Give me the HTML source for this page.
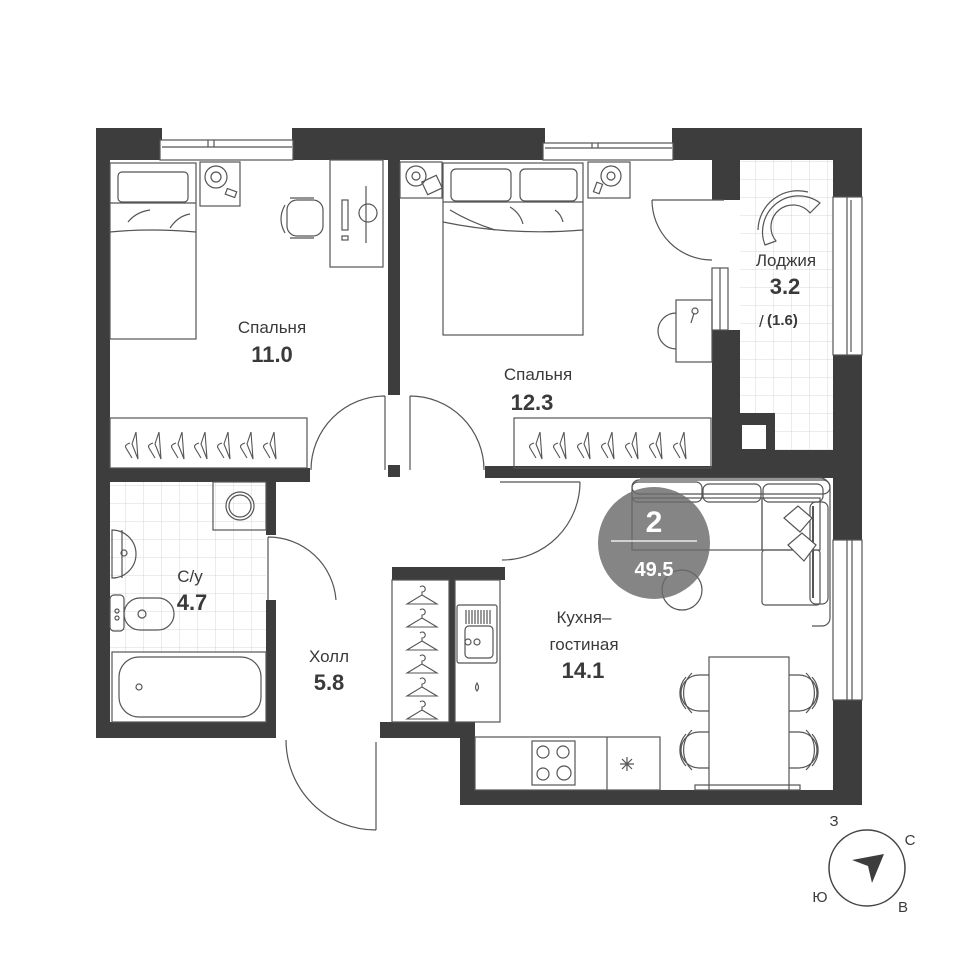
<!DOCTYPE html>
<html><head><meta charset="utf-8"><style>
html,body{margin:0;padding:0;background:#fff;width:960px;height:960px;overflow:hidden}
svg{display:block}
text{font-family:"Liberation Sans","DejaVu Sans",sans-serif;fill:#3a3a3a}
.l{font-size:17px}
.n{font-size:22px;font-weight:bold}
</style></head><body>
<svg width="960" height="960" viewBox="0 0 960 960" xmlns="http://www.w3.org/2000/svg">
<defs>
<pattern id="tile" width="18" height="18" patternUnits="userSpaceOnUse">
<path d="M18 0V18H0" fill="none" stroke="#d8d8d8" stroke-width="1"/>
</pattern>
</defs>
<!-- tiles -->
<rect x="110" y="482" width="156" height="170" fill="url(#tile)"/>
<rect x="740" y="160" width="93" height="290" fill="url(#tile)"/>
<g fill="#3d3d3d">
<!-- top wall -->
<rect x="96" y="128" width="766" height="32"/>
<!-- left wall -->
<rect x="96" y="128" width="14" height="610"/>
<!-- bedroom divider -->
<rect x="388" y="160" width="12" height="235"/>
<rect x="388" y="465" width="12" height="12"/>
<!-- bedroom1 bottom -->
<rect x="96" y="468" width="214" height="14"/>
<!-- bedroom2 bottom -->
<rect x="485" y="466" width="227" height="12"/>
<!-- right of bedroom2 -->
<rect x="712" y="160" width="28" height="40"/>
<rect x="712" y="330" width="28" height="148"/>
<!-- loggia right wall -->
<rect x="833" y="128" width="29" height="69"/>
<rect x="833" y="355" width="29" height="185"/>
<rect x="740" y="450" width="122" height="28"/>
<rect x="740" y="413" width="35" height="37"/>
<!-- living right wall -->
<rect x="833" y="700" width="29" height="105"/>
<!-- bottom living -->
<rect x="460" y="790" width="402" height="15"/>
<rect x="460" y="722" width="15" height="83"/>
<!-- hall/kitchen walls -->
<rect x="380" y="722" width="95" height="16"/>
<rect x="392" y="567" width="113" height="13"/>
<rect x="449" y="567" width="6" height="160"/>
<rect x="500" y="567" width="5" height="10"/>
<!-- bathroom -->
<rect x="96" y="722" width="180" height="16"/>
<rect x="266" y="480" width="10" height="55"/>
<rect x="266" y="600" width="10" height="125"/>
</g>
<!-- small white square in loggia -->
<rect x="742" y="425" width="24" height="24" fill="#fff"/>
<g fill="none" stroke="#555" stroke-width="1.2">
<!-- windows -->
<rect x="162" y="128" width="130" height="32" fill="#fff" stroke="none"/>
<rect x="160" y="140" width="133" height="20" fill="#fff"/>
<line x1="162" y1="147" x2="292" y2="147"/><line x1="208" y1="140" x2="208" y2="147"/><line x1="214" y1="140" x2="214" y2="147"/>
<rect x="545" y="128" width="127" height="32" fill="#fff" stroke="none"/>
<rect x="543" y="143" width="130" height="17" fill="#fff"/>
<line x1="545" y1="148" x2="672" y2="148"/><line x1="592" y1="143" x2="592" y2="148"/><line x1="598" y1="143" x2="598" y2="148"/>
<rect x="833" y="197" width="29" height="158" fill="#fff"/>
<line x1="847" y1="197" x2="847" y2="355"/><line x1="851" y1="200" x2="851" y2="352"/>
<rect x="833" y="540" width="29" height="160" fill="#fff"/>
<line x1="847" y1="540" x2="847" y2="700"/><line x1="852" y1="540" x2="852" y2="700"/>
<rect x="712" y="268" width="16" height="62" fill="#fff"/><line x1="720" y1="268" x2="720" y2="330"/>
<!-- bed1 -->
<rect x="110" y="163" width="86" height="176"/>
<rect x="118" y="172" width="70" height="30" rx="4"/>
<path d="M110 203H196M110 232Q150 228 196 232"/>
<path d="M128 222q8-10 22-12M170 228q8-12 20-14"/>
<!-- nightstand1 -->
<rect x="200" y="162" width="40" height="44"/>
<circle cx="216" cy="177" r="11"/><circle cx="216" cy="177" r="5"/>
<rect x="226" y="190" width="10" height="6" transform="rotate(20 231 193)"/>
<!-- chair -->
<path d="M285 205q-8 14 0 28M290 198h24M290 238h24"/>
<rect x="287" y="200" width="36" height="36" rx="10"/>
<!-- desk -->
<rect x="330" y="160" width="53" height="107"/>
<rect x="342" y="200" width="6" height="30"/><rect x="342" y="236" width="6" height="4"/>
<line x1="366" y1="186" x2="366" y2="243"/><circle cx="368" cy="213" r="9"/>
<!-- wardrobe1 -->
<rect x="110" y="418" width="197" height="50"/>
<!-- bed2 -->
<rect x="443" y="163" width="140" height="172"/>
<rect x="451" y="169" width="60" height="32" rx="5"/><rect x="520" y="169" width="57" height="32" rx="5"/>
<path d="M443 202H583M443 222Q510 236 583 230"/>
<path d="M450 210q20 12 45 20M510 207q10 6 13 17M555 210q6 4 8 12"/>
<!-- nightstand2 -->
<rect x="400" y="162" width="42" height="36"/>
<circle cx="416" cy="176" r="10"/><circle cx="416" cy="176" r="4"/>
<rect x="424" y="178" width="16" height="14" transform="rotate(-25 432 185)"/>
<rect x="588" y="162" width="42" height="36"/>
<circle cx="611" cy="176" r="10"/><circle cx="611" cy="176" r="4"/>
<rect x="595" y="183" width="6" height="10" transform="rotate(20 598 188)"/>
<!-- vanity -->
<rect x="676" y="300" width="36" height="62"/>
<path d="M676 313a18 18 0 0 0 0 36"/>
<path d="M694 313l-3 10"/><circle cx="695" cy="311" r="3"/>
<!-- wardrobe2 -->
<rect x="514" y="418" width="197" height="50"/>
<!-- loggia chair -->
<path d="M765 245a36 36 0 0 1 55-42l-10 10a22 22 0 0 0-34 28z" stroke-linejoin="round"/>
<path d="M758 230a40 40 0 0 1 50-38"/>
<!-- bathroom -->
<rect x="213" y="482" width="53" height="48"/>
<circle cx="240" cy="506" r="14"/><circle cx="240" cy="506" r="11"/>
<path d="M112 530a24 24 0 0 1 0 48z"/><path d="M122 530v48"/>
<circle cx="124" cy="553" r="3"/>
<rect x="110" y="595" width="14" height="36" rx="4"/>
<rect x="124" y="598" width="50" height="32" rx="16"/>
<circle cx="142" cy="614" r="4"/>
<circle cx="117" cy="611" r="2"/><circle cx="117" cy="618" r="2"/>
<rect x="112" y="652" width="154" height="70"/>
<rect x="119" y="657" width="142" height="60" rx="20"/>
<circle cx="139" cy="687" r="3"/>
<!-- hall wardrobe -->
<rect x="392" y="580" width="57" height="142"/>
<!-- kitchen sink counter -->
<rect x="455" y="580" width="45" height="142"/>
<rect x="457" y="605" width="40" height="58" rx="2"/>
<path d="M466 610v14M469 610v14M472 610v14M475 610v14M478 610v14M481 610v14M484 610v14M487 610v14M490 610v14"/>
<rect x="465" y="626" width="28" height="32" rx="4"/>
<circle cx="477" cy="642" r="3"/><circle cx="468" cy="642" r="3"/>
<path d="M477 683q-3 5 0 8q3-3 0-8z"/>
<!-- kitchen counter -->
<rect x="475" y="737" width="185" height="53"/>
<line x1="607" y1="737" x2="607" y2="790"/>
<rect x="532" y="741" width="43" height="44"/>
<circle cx="543" cy="752" r="6"/><circle cx="563" cy="752" r="6"/><circle cx="543" cy="774" r="6"/><circle cx="564" cy="773" r="7"/>
<path d="M627 757v14M620 764h14M622 759l10 10M632 759l-10 10"/>
<!-- table -->
<rect x="709" y="657" width="80" height="133"/>
<rect x="695" y="785" width="105" height="5"/>
<path d="M709 675h-10a18 18 0 0 0 0 36h10M692 673a28 28 0 0 0 0 40M686 677a24 24 0 0 0 0 32"/>
<path d="M709 732h-10a18 18 0 0 0 0 36h10M692 730a28 28 0 0 0 0 40M686 734a24 24 0 0 0 0 32"/>
<path d="M789 675h10a18 18 0 0 1 0 36h-10M806 673a28 28 0 0 1 0 40M812 677a24 24 0 0 1 0 32"/>
<path d="M789 732h10a18 18 0 0 1 0 36h-10M806 730a28 28 0 0 1 0 40M812 734a24 24 0 0 1 0 32"/>
<!-- sofa -->
<path d="M640 478h180a10 10 0 0 1 10 10v130a8 8 0 0 1-8 8h-10"/>
<rect x="632" y="480" width="198" height="14" rx="7"/>
<rect x="632" y="482" width="70" height="20" rx="6"/>
<rect x="703" y="484" width="58" height="18" rx="6"/>
<rect x="763" y="484" width="60" height="18" rx="6"/>
<rect x="632" y="498" width="130" height="52"/>
<rect x="762" y="498" width="58" height="52"/>
<rect x="762" y="550" width="58" height="55" rx="3"/>
<rect x="810" y="502" width="18" height="102" rx="6"/>
<line x1="813" y1="506" x2="813" y2="598" stroke-width="2"/>
<path d="M784 518l14-12 14 12-12 14z" fill="#fff"/>
<path d="M788 545l14-12 14 12-12 16z" fill="#fff"/>
<circle cx="682" cy="590" r="20"/>
<!-- doors -->
<path d="M385 396v74M385 396a74 74 0 0 0-74 74"/>
<path d="M410 396v74M410 396a74 74 0 0 1 74 74"/>
<path d="M268 537v63M268 537a68 68 0 0 1 68 63"/>
<path d="M500 482h80M580 482a78 78 0 0 1-78 78"/>
<path d="M652 200h72M652 200a60 60 0 0 0 60 60"/>
<path d="M376 742v88M376 830a90 90 0 0 1-90-90"/>
</g>
<!-- hangers -->
<g fill="none" stroke="#555" stroke-width="1.1">
<path id="hg" d="M130 443q-6 2-4 5l6 10M136 432l-4 12 6 15z"/>
<use href="#hg" x="23"/><use href="#hg" x="46"/><use href="#hg" x="69"/><use href="#hg" x="92"/><use href="#hg" x="115"/><use href="#hg" x="138"/>
<use href="#hg" x="404"/><use href="#hg" x="428"/><use href="#hg" x="452"/><use href="#hg" x="476"/><use href="#hg" x="500"/><use href="#hg" x="524"/><use href="#hg" x="548"/>
<path id="hh" d="M420 587a3 3 0 1 1 2 5v3l-15 9h30l-15-9"/>
<use href="#hh" y="23"/><use href="#hh" y="46"/><use href="#hh" y="69"/><use href="#hh" y="92"/><use href="#hh" y="115"/>
</g>
<!-- badge -->
<circle cx="654" cy="543" r="56" fill="#6a6a6a" opacity="0.82"/>
<line x1="611" y1="541" x2="697" y2="541" stroke="#fff" stroke-width="1.2"/>
<text x="654" y="532" text-anchor="middle" style="font-size:30px;font-weight:bold;fill:#fff">2</text>
<text x="654" y="576" text-anchor="middle" style="font-size:20px;font-weight:bold;fill:#fff">49.5</text>
<!-- labels -->
<text x="272" y="333" text-anchor="middle" class="l">Спальня</text>
<text x="272" y="362" text-anchor="middle" class="n">11.0</text>
<text x="538" y="380" text-anchor="middle" class="l">Спальня</text>
<text x="532" y="410" text-anchor="middle" class="n">12.3</text>
<text x="786" y="266" text-anchor="middle" class="l">Лоджия</text>
<text x="785" y="294" text-anchor="middle" class="n">3.2</text>
<text x="759" y="327" class="l">/</text><text x="767" y="325" style="font-size:15px;font-weight:bold">(1.6)</text>
<text x="190" y="582" text-anchor="middle" class="l">С/у</text>
<text x="192" y="610" text-anchor="middle" class="n">4.7</text>
<text x="329" y="662" text-anchor="middle" class="l">Холл</text>
<text x="329" y="690" text-anchor="middle" class="n">5.8</text>
<text x="584" y="623" text-anchor="middle" class="l">Кухня–</text>
<text x="584" y="650" text-anchor="middle" class="l">гостиная</text>
<text x="583" y="678" text-anchor="middle" class="n">14.1</text>
<!-- compass -->
<circle cx="867" cy="868" r="38" fill="none" stroke="#444" stroke-width="1.5"/>
<path d="M884 854L872 883L868 866L852 860z" fill="#3d3d3d"/>
<text x="834" y="826" text-anchor="middle" style="font-size:15px">З</text>
<text x="910" y="845" text-anchor="middle" style="font-size:15px">С</text>
<text x="820" y="902" text-anchor="middle" style="font-size:15px">Ю</text>
<text x="903" y="912" text-anchor="middle" style="font-size:15px">В</text>
</svg>
</body></html>
